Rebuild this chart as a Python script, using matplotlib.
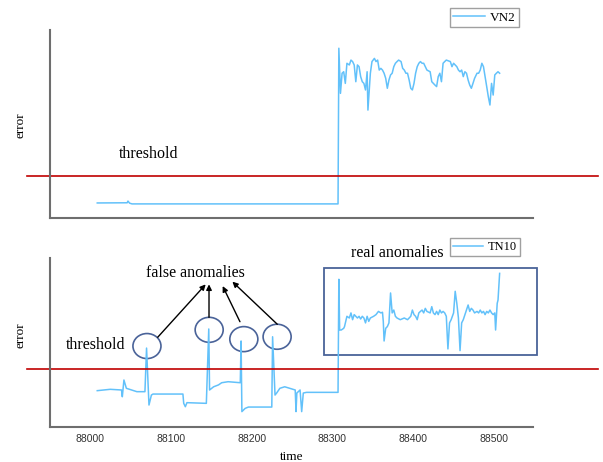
import matplotlib
matplotlib.use('Agg')
import matplotlib.pyplot as plt
from matplotlib.patches import Ellipse, Rectangle

# reconstruction errors (error in arbitrary units, 0-100 axis)
vn2_time = [88009, 88046, 88047, 88049, 88052, 88307,
            88308, 88310, 88312, 88314, 88316, 88318, 88321, 88323, 88325, 88327,
            88329, 88331, 88333, 88335, 88337, 88339, 88341, 88343, 88344, 88347,
            88349, 88352, 88354, 88356, 88358, 88360, 88362, 88364, 88366, 88368,
            88370, 88372, 88374, 88376, 88378, 88380, 88382, 88385, 88387, 88389,
            88391, 88393, 88395, 88397, 88399, 88401, 88403, 88405, 88407, 88409,
            88411, 88413, 88417, 88421, 88423, 88425, 88427, 88429, 88431, 88433,
            88435, 88437, 88439, 88441, 88446, 88448, 88450, 88454, 88456, 88458,
            88460, 88462, 88464, 88466, 88468, 88470, 88472, 88474, 88476, 88479,
            88481, 88483, 88485, 88487, 88489, 88491, 88493, 88495, 88497, 88499,
            88501, 88503, 88505, 88507]
vn2_error = [8.0, 8.1, 9.0, 7.9, 7.5, 7.5,
             90.3, 66.3, 77.0, 77.8, 71.6, 82.3, 81.4, 84.0, 83.2, 81.4,
             72.5, 81.4, 80.5, 75.2, 72.5, 71.6, 68.1, 77.8, 57.4, 77.0,
             83.2, 84.9, 83.2, 84.0, 78.7, 79.6, 78.7, 77.0, 74.3, 69.0,
             73.4, 76.1, 77.0, 80.5, 82.3, 83.2, 84.0, 83.2, 79.6, 78.7,
             77.0, 77.0, 73.4, 69.0, 68.1, 71.6, 77.0, 80.5, 82.3, 83.2,
             82.3, 82.3, 78.7, 77.8, 72.5, 71.6, 70.7, 69.9, 75.2, 77.0,
             72.5, 82.3, 83.2, 84.0, 83.2, 80.5, 82.3, 80.5, 78.7, 77.8,
             78.7, 75.2, 77.8, 77.0, 73.4, 70.7, 69.0, 71.6, 74.3, 77.0,
             77.0, 78.7, 82.3, 80.5, 75.2, 69.9, 64.5, 60.1, 71.6, 65.4,
             76.1, 77.0, 77.8, 77.0]

tn10_time = [88009, 88025, 88039, 88040, 88042, 88045, 88058, 88068, 88070, 88073,
             88076, 88078, 88115, 88116, 88118, 88120, 88144, 88147, 88148, 88153,
             88159, 88163, 88171, 88186, 88187, 88188, 88192, 88196, 88225, 88226,
             88229, 88231, 88235, 88241, 88254, 88255, 88256, 88260, 88262, 88264,
             88268, 88307,
             88308, 88309, 88311, 88314, 88315, 88318, 88321, 88323, 88325, 88327,
             88329, 88331, 88333, 88335, 88337, 88339, 88341, 88343, 88345, 88347,
             88351, 88354, 88357, 88360, 88362, 88363, 88364, 88366, 88368, 88370,
             88372, 88374, 88376, 88378, 88380, 88384, 88389, 88393, 88397, 88399,
             88401, 88403, 88405, 88407, 88409, 88411, 88413, 88415, 88417, 88421,
             88423, 88425, 88427, 88429, 88431, 88433, 88435, 88437, 88439, 88441,
             88443, 88445, 88447, 88450, 88452, 88454, 88456, 88458, 88460, 88462,
             88466, 88468, 88470, 88472, 88474, 88476, 88479, 88481, 88483, 88485,
             88487, 88489, 88491, 88493, 88495, 88497, 88499, 88501, 88502, 88504,
             88505, 88507]
tn10_error = [21.5, 22.3, 21.9, 17.9, 27.8, 22.9, 20.9, 20.9, 46.7, 13.0,
              18.9, 19.5, 19.5, 14.0, 12.0, 14.4, 14.0, 58.0, 21.9, 23.8,
              24.9, 26.2, 26.8, 26.2, 50.9, 9.1, 11.0, 11.8, 11.8, 53.4,
              18.9, 20.1, 22.9, 23.8, 21.9, 9.1, 20.1, 21.9, 9.1, 20.1,
              20.5, 20.5,
              87.4, 57.4, 57.4, 58.4, 59.4, 65.5, 64.5, 67.5, 63.5, 66.5,
              65.5, 64.5, 65.5, 63.9, 65.5, 64.5, 61.6, 65.5, 62.5, 64.5,
              65.5, 66.5, 68.4, 67.5, 67.9, 62.5, 50.9, 58.4, 59.4, 61.6,
              79.3, 67.5, 69.2, 65.5, 64.5, 63.5, 64.5, 63.5, 65.5, 69.2,
              66.5, 65.5, 63.5, 67.5, 68.4, 69.2, 67.5, 70.2, 68.4, 67.5,
              71.2, 67.5, 66.5, 68.4, 66.5, 69.2, 67.5, 68.4, 67.5, 65.5,
              46.2, 61.6, 63.5, 67.5, 80.3, 73.2, 64.5, 45.2, 61.6, 63.5,
              69.2, 72.2, 68.4, 70.2, 69.2, 67.5, 68.4, 67.5, 69.2, 67.5,
              68.4, 66.5, 68.4, 67.5, 69.2, 67.5, 66.5, 67.5, 57.4, 73.2,
              75.1, 90.9]

vn2_threshold = 22.3
tn10_threshold = 34.3

# circled false anomalies (time, error) and where their arrows start/end
false_centers = [(88070.5, 47.9), (88147.5, 57.5), (88190.4, 52.0), (88231.6, 53.4)]
arrow_starts = [(88083.8, 53.1), (88147.3, 64.9), (88185.6, 62.3), (88231.8, 60.8)]
arrow_ends = [(88143.2, 84.4), (88147.3, 84.4), (88164.2, 83.4), (88176.2, 86.0)]
real_box = (88290, 42.6, 88553, 94.1)

x_ticks = [88000, 88100, 88200, 88300, 88400, 88500]

line_color = '#62c1fa'
red = '#c00000'
spine_color = '#6e6e6e'
mark_color = '#4a6399'
serif = 'Liberation Serif'

fig = plt.figure(figsize=(6.03, 4.62), dpi=100)
W, H = 603, 462


def make_ax(top, bottom):
    ax = fig.add_axes([50 / W, (H - bottom) / H, 483 / W, (bottom - top) / H])
    for side in ('top', 'right'):
        ax.spines[side].set_visible(False)
    for side in ('left', 'bottom'):
        ax.spines[side].set_color(spine_color)
        ax.spines[side].set_linewidth(1.5)
    ax.set_xlim(87950.5, 88548.3)
    ax.set_ylim(0, 100)
    ax.set_yticks([])
    return ax


ax1 = make_ax(30, 218)
ax1.set_xticks([])
ax1.plot(vn2_time, vn2_error, color=line_color, lw=1.1, label='VN2')
ax1.axhline(vn2_threshold, xmin=-0.047, xmax=1.135, color=red, lw=1.2, clip_on=False)
ax1.text(88072, 34.0, 'threshold', family=serif, fontsize=11.5, ha='center', va='center')
leg1 = ax1.legend(loc='upper left', bbox_to_anchor=(450 / W, 1 - 8 / H),
                  bbox_transform=fig.transFigure, borderaxespad=0, fancybox=False,
                  prop={'family': serif, 'size': 9.5}, handlelength=2.4,
                  handletextpad=0.4, borderpad=0.25)
leg1.get_frame().set_edgecolor('#888888')

ax2 = make_ax(258, 427)
ax2.plot(tn10_time, tn10_error, color=line_color, lw=1.1, label='TN10')
ax2.axhline(tn10_threshold, xmin=-0.047, xmax=1.135, color=red, lw=1.2, clip_on=False)
ax2.set_xticks(x_ticks)
ax2.set_xticklabels([str(t) for t in x_ticks], family='Liberation Sans', fontsize=7.5,
                    color='#333333')
ax2.tick_params(axis='x', length=0, pad=5)
ax2.text(88007, 48.5, 'threshold', family=serif, fontsize=11.5, ha='center', va='center')
ax2.text(88130, 90.9, 'false anomalies', family=serif, fontsize=11.5, ha='center', va='center')
ax2.text(88380, 103, 'real anomalies', family=serif, fontsize=11.5, ha='center', va='center')

for cx, cy in false_centers:
    ax2.add_patch(Ellipse((cx, cy), 34.7, 14.8, fill=False, edgecolor=mark_color, lw=1.2))
for (x0, y0), (x1, y1) in zip(arrow_starts, arrow_ends):
    ax2.annotate('', xy=(x1, y1), xytext=(x0, y0),
                 arrowprops=dict(arrowstyle='-|>', color='black', lw=1.0,
                                 mutation_scale=8, shrinkA=0, shrinkB=0))
bx0, by0, bx1, by1 = real_box
ax2.add_patch(Rectangle((bx0, by0), bx1 - bx0, by1 - by0, fill=False,
                        edgecolor=mark_color, lw=1.3, clip_on=False))
leg2 = ax2.legend(loc='upper left', bbox_to_anchor=(450 / W, 1 - 238 / H),
                  bbox_transform=fig.transFigure, borderaxespad=0, fancybox=False,
                  prop={'family': serif, 'size': 9}, handlelength=2.4,
                  handletextpad=0.4, borderpad=0.25)
leg2.get_frame().set_edgecolor('#888888')

fig.text(20 / W, 1 - 125 / H, 'error', family=serif, fontsize=9.5, rotation=90,
         ha='center', va='center')
fig.text(20 / W, 1 - 335 / H, 'error', family=serif, fontsize=9.5, rotation=90,
         ha='center', va='center')
fig.text(292 / W, 1 - 457 / H, 'time', family=serif, fontsize=9.5, ha='center', va='center')

fig.savefig('out.png', dpi=100)
